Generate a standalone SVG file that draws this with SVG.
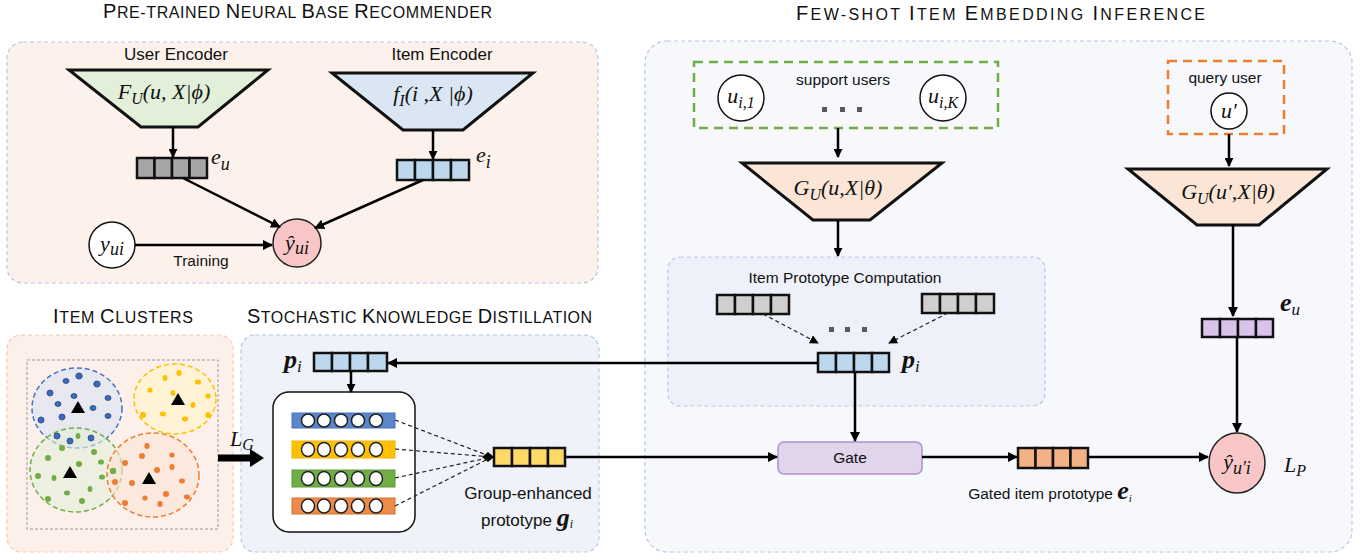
<svg xmlns="http://www.w3.org/2000/svg" width="1367" height="560" viewBox="0 0 1367 560">
<defs>
<marker id="ah" viewBox="0 0 10 10" refX="9" refY="5" markerWidth="10" markerHeight="10" markerUnits="userSpaceOnUse" orient="auto"><path d="M0,0 L10,5 L0,10 z" fill="#000"/></marker>
<marker id="ahs" viewBox="0 0 10 10" refX="9" refY="5" markerWidth="9" markerHeight="9" markerUnits="userSpaceOnUse" orient="auto"><path d="M0,0 L10,5 L0,10 z" fill="#000"/></marker>
<marker id="dia" viewBox="0 0 12 10" refX="12" refY="5" markerWidth="12" markerHeight="10" markerUnits="userSpaceOnUse" orient="auto"><path d="M0,5 L6,0 L12,5 L6,10 z" fill="#000"/></marker>
</defs>
<style>
.title{font-family:"Liberation Sans",Arial,sans-serif;font-size:16px;fill:#111;text-anchor:start}
.cap{font-size:20px}
.lbl{font-family:"Liberation Sans",Arial,sans-serif;font-size:17px;fill:#111;text-anchor:middle}
.sm{font-family:"Liberation Sans",Arial,sans-serif;font-size:15.5px;fill:#111;text-anchor:middle}
.m{font-family:"Liberation Serif","Times New Roman",serif;font-style:italic;font-size:22px;fill:#111}
.mb{font-family:"Liberation Serif","Times New Roman",serif;font-style:italic;font-weight:bold;font-size:26px;fill:#111}
.panel{stroke:#b4c7e7;stroke-width:1.2;stroke-dasharray:4 3}
.cell{stroke:#111;stroke-width:2.5}
.line{stroke:#000;stroke-width:2.5;fill:none}
.dline{stroke:#222;stroke-width:1.2;stroke-dasharray:4 3;fill:none}
.trap{stroke:#111;stroke-width:3}
.circ{fill:#fff;stroke:#111;stroke-width:1.5}
.bd{fill:#3d6ab8;stroke:#2f5597;stroke-width:1}
.gd{fill:#70ad47}
.od{fill:#ed7d31}
.yd{fill:#ffc000}
.wc{fill:#fff;stroke:#222;stroke-width:1.5}
</style>

<!-- Panels -->
<g id="panel-base">
<rect x="7" y="42" width="591" height="241" rx="16" fill="#fdf1ec" class="panel"/>
<text class="title" x="103" y="18" textLength="389" lengthAdjust="spacing"><tspan class="cap">P</tspan>RE-TRAINED <tspan class="cap">N</tspan>EURAL <tspan class="cap">B</tspan>ASE <tspan class="cap">R</tspan>ECOMMENDER</text>
</g>
<g id="panel-fewshot">
<rect x="645" y="41" width="707" height="511" rx="22" fill="#f6f8fc" class="panel"/>
<text class="title" x="796" y="20" textLength="409" lengthAdjust="spacing"><tspan class="cap">F</tspan>EW-SHOT <tspan class="cap">I</tspan>TEM <tspan class="cap">E</tspan>MBEDDING <tspan class="cap">I</tspan>NFERENCE</text>
</g>
<g id="panel-clusters">
<rect x="7" y="335" width="226" height="217" rx="14" fill="#fdf0ea" stroke="#f8cbad" stroke-width="1.2" stroke-dasharray="4 3"/>
<text class="title" x="53" y="323" textLength="140" lengthAdjust="spacing"><tspan class="cap">I</tspan>TEM <tspan class="cap">C</tspan>LUSTERS</text>
</g>
<g id="panel-skd">
<rect x="241" y="335" width="358" height="217" rx="14" fill="#eff2f9" class="panel"/>
<text class="title" x="247" y="323" textLength="345" lengthAdjust="spacing"><tspan class="cap">S</tspan>TOCHASTIC <tspan class="cap">K</tspan>NOWLEDGE <tspan class="cap">D</tspan>ISTILLATION</text>
</g>
<g id="panel-proto">
<rect x="668" y="257" width="377" height="149" rx="12" fill="#eef1f9" class="panel"/>
<text class="sm" x="845" y="283">Item Prototype Computation</text>
</g>

<!-- User Encoder -->
<g id="user-encoder">
<text class="lbl" x="176" y="60">User Encoder</text>
<polygon class="trap" points="69,70 268,70 198,127 141,127" fill="#e2efd9"/>
<text class="m" x="164" y="99" text-anchor="middle" font-size="24">F<tspan font-size="16" dy="5">U</tspan><tspan dy="-5">(u, X|ϕ)</tspan></text>
</g>
<g id="e_u">
<rect class="cell" x="137" y="158" width="17.5" height="20" fill="#a6a6a6"/>
<rect class="cell" x="154.5" y="158" width="17.5" height="20" fill="#a6a6a6"/>
<rect class="cell" x="172" y="158" width="17.5" height="20" fill="#a6a6a6"/>
<rect class="cell" x="189.5" y="158" width="17.5" height="20" fill="#a6a6a6"/>
<text class="m" x="211" y="164" font-size="27">e<tspan font-size="18" dy="6">u</tspan></text>
</g>

<!-- Item Encoder -->
<g id="item-encoder">
<text class="lbl" x="442" y="60">Item Encoder</text>
<polygon class="trap" points="332,73 533,73 463,130 403,130" fill="#dae6f3"/>
<text class="m" x="433" y="101" text-anchor="middle" font-size="24">f<tspan font-size="16" dy="5">I</tspan><tspan dy="-5">(i ,X |ϕ)</tspan></text>
</g>
<g id="e_i">
<rect class="cell" x="397" y="160" width="18" height="20" fill="#bdd7ee"/>
<rect class="cell" x="415" y="160" width="18" height="20" fill="#bdd7ee"/>
<rect class="cell" x="433" y="160" width="18" height="20" fill="#bdd7ee"/>
<rect class="cell" x="451" y="160" width="18" height="20" fill="#bdd7ee"/>
<text class="m" x="476" y="162" font-size="27">e<tspan font-size="18" dy="6">i</tspan></text>
</g>

<g id="y_ui">
<circle class="circ" cx="112" cy="245" r="23"/>
<text class="m" x="112" y="251" text-anchor="middle" font-size="26">y<tspan font-size="18" dy="4">ui</tspan></text>
</g>
<g id="yhat_ui">
<circle cx="297" cy="243" r="24" fill="#f8c6c6" stroke="#222" stroke-width="1.5"/>
<text class="m" x="297" y="250" text-anchor="middle" font-size="26">ŷ<tspan font-size="18" dy="4">ui</tspan></text>
</g>

<!-- Support users -->
<g id="support-users">
<rect x="694" y="62" width="304" height="66" fill="none" stroke="#70ad47" stroke-width="2.5" stroke-dasharray="9 6"/>
<text class="sm" x="843" y="85">support users</text>
<circle class="circ" cx="741" cy="98" r="23"/>
<text class="m" x="741" y="103" text-anchor="middle" font-size="27">u<tspan font-size="16" dy="5">i,1</tspan></text>
<circle class="circ" cx="943" cy="98" r="23"/>
<text class="m" x="943" y="103" text-anchor="middle" font-size="27">u<tspan font-size="16" dy="5">i,K</tspan></text>
<rect x="822" y="107" width="5" height="5" fill="#595959"/>
<rect x="840" y="107" width="5" height="5" fill="#595959"/>
<rect x="857" y="107" width="5" height="5" fill="#595959"/>
</g>
<g id="gu-support">
<polygon class="trap" points="742,163 942,163 870,220 813,220" fill="#fbe5d6"/>
<text class="m" x="838" y="195" text-anchor="middle" font-size="24">G<tspan font-size="16" dy="5">U</tspan><tspan dy="-5">(u,X|θ)</tspan></text>
</g>

<!-- Item prototype computation -->
<g id="proto-left">
<rect class="cell" x="717" y="295" width="18" height="19" fill="#d0cece"/>
<rect class="cell" x="735" y="295" width="18" height="19" fill="#d0cece"/>
<rect class="cell" x="753" y="295" width="18" height="19" fill="#d0cece"/>
<rect class="cell" x="771" y="295" width="18" height="19" fill="#d0cece"/>
</g>
<g id="proto-right">
<rect class="cell" x="922" y="294" width="18" height="19" fill="#d0cece"/>
<rect class="cell" x="940" y="294" width="18" height="19" fill="#d0cece"/>
<rect class="cell" x="958" y="294" width="18" height="19" fill="#d0cece"/>
<rect class="cell" x="976" y="294" width="18" height="19" fill="#d0cece"/>
<rect x="829" y="327" width="5" height="5" fill="#595959"/>
<rect x="845" y="327" width="5" height="5" fill="#595959"/>
<rect x="862" y="327" width="5" height="5" fill="#595959"/>
</g>
<g id="p_i-proto">
<rect class="cell" x="818" y="353" width="18" height="19" fill="#bdd7ee"/>
<rect class="cell" x="836" y="353" width="18" height="19" fill="#bdd7ee"/>
<rect class="cell" x="854" y="353" width="18" height="19" fill="#bdd7ee"/>
<rect class="cell" x="872" y="353" width="17" height="19" fill="#bdd7ee"/>
<text class="mb" x="902" y="368">p<tspan font-size="17" font-weight="normal" dy="4">i</tspan></text>
</g>

<!-- Query user -->
<g id="query-user">
<rect x="1168" y="61" width="116" height="73" fill="none" stroke="#ed7d31" stroke-width="2.5" stroke-dasharray="9 6"/>
<text class="sm" x="1225" y="83">query user</text>
<circle class="circ" cx="1229" cy="111" r="18"/>
<text class="m" x="1229" y="118" text-anchor="middle" font-size="24">u′</text>
</g>
<g id="gu-query">
<polygon class="trap" points="1128,169 1327,169 1259,225 1197,225" fill="#fbe5d6"/>
<text class="m" x="1228" y="199" text-anchor="middle" font-size="24">G<tspan font-size="16" dy="5">U</tspan><tspan dy="-5">(u′,X|θ)</tspan></text>
</g>
<g id="e_u-query">
<rect class="cell" x="1202" y="319" width="18" height="18" fill="#d9c3e9"/>
<rect class="cell" x="1220" y="319" width="18" height="18" fill="#d9c3e9"/>
<rect class="cell" x="1238" y="319" width="18" height="18" fill="#d9c3e9"/>
<rect class="cell" x="1256" y="319" width="17" height="18" fill="#d9c3e9"/>
<text class="mb" x="1280" y="311">e<tspan font-size="17" font-weight="normal" dy="4">u</tspan></text>
</g>

<g id="gate">
<rect x="778" y="442" width="144" height="32" rx="6" fill="#e1d5ec" stroke="#b18fd0" stroke-width="1.5"/>
<text class="sm" x="850" y="463">Gate</text>
</g>
<g id="gated-proto">
<rect class="cell" x="1018" y="448" width="17.5" height="20" fill="#f4b183"/>
<rect class="cell" x="1035.5" y="448" width="17.5" height="20" fill="#f4b183"/>
<rect class="cell" x="1053" y="448" width="17.5" height="20" fill="#f4b183"/>
<rect class="cell" x="1070.5" y="448" width="17.5" height="20" fill="#f4b183"/>
<text class="sm" x="1050" y="499" font-size="15">Gated item prototype <tspan class="mb" font-size="15">e</tspan><tspan font-family="Liberation Serif" font-style="italic" font-size="11" dy="3">i</tspan></text>
</g>
<g id="yhat_u'i">
<ellipse cx="1237" cy="463" rx="28" ry="30" fill="#f8c6c6" stroke="#222" stroke-width="1.5"/>
<text class="m" x="1237" y="469" text-anchor="middle" font-size="27">ŷ<tspan font-size="18" dy="5">u′i</tspan></text>
<text class="m" x="1284" y="472" font-size="25">L<tspan font-size="16" dy="4">P</tspan></text>
</g>

<!-- Item clusters -->
<g id="clusters">
<rect x="27" y="360" width="191" height="169" fill="none" stroke="#999" stroke-width="1" stroke-dasharray="3 2"/>
<ellipse cx="77" cy="408" rx="45" ry="40" fill="#dae3f3" fill-opacity="0.6" stroke="#4472c4" stroke-width="1.5" stroke-dasharray="5 3"/>
<ellipse cx="175" cy="399" rx="41" ry="35" fill="#fff2cc" fill-opacity="0.7" stroke="#ffc000" stroke-width="1.5" stroke-dasharray="5 3"/>
<ellipse cx="76" cy="470" rx="46" ry="42" fill="#e2efd9" fill-opacity="0.6" stroke="#70ad47" stroke-width="1.5" stroke-dasharray="5 3"/>
<ellipse cx="153" cy="475" rx="46" ry="42" fill="#fbe5d6" fill-opacity="0.6" stroke="#ed7d31" stroke-width="1.5" stroke-dasharray="5 3"/>
<g class="bd">
<ellipse cx="79" cy="376" rx="3.2" ry="3"/><ellipse cx="66" cy="381" rx="3" ry="2.4"/><ellipse cx="97" cy="384" rx="3.2" ry="3"/><ellipse cx="50" cy="393" rx="3" ry="3"/><ellipse cx="74" cy="396" rx="3" ry="2.4"/><ellipse cx="108" cy="398" rx="3" ry="2.4"/><ellipse cx="58" cy="404" rx="3" ry="2.4"/><ellipse cx="93" cy="408" rx="3" ry="2.4"/><ellipse cx="62" cy="417" rx="3" ry="3"/><ellipse cx="108" cy="416" rx="3" ry="2.4"/><ellipse cx="41" cy="420" rx="3" ry="3"/><ellipse cx="57" cy="436" rx="3" ry="3"/><ellipse cx="70" cy="441" rx="3" ry="3"/><ellipse cx="91" cy="438" rx="3" ry="3"/>
</g>
<g class="yd">
<ellipse cx="179" cy="373" rx="2.6" ry="3"/><ellipse cx="165" cy="378" rx="2.4" ry="3"/><ellipse cx="198" cy="382" rx="3" ry="2.6"/><ellipse cx="150" cy="390" rx="2.6" ry="2.6"/><ellipse cx="173" cy="393" rx="2.4" ry="3"/><ellipse cx="208" cy="396" rx="2.6" ry="2.6"/><ellipse cx="193" cy="405" rx="2.4" ry="3"/><ellipse cx="143" cy="415" rx="3" ry="3"/><ellipse cx="163" cy="414" rx="3" ry="2.4"/><ellipse cx="185" cy="419" rx="3" ry="2.4"/><ellipse cx="208" cy="415" rx="2.6" ry="3"/>
</g>
<g class="gd">
<ellipse cx="78" cy="436" rx="2.4" ry="3"/><ellipse cx="62" cy="448" rx="3" ry="3"/><ellipse cx="94" cy="452" rx="3" ry="3"/><ellipse cx="48" cy="458" rx="3" ry="3"/><ellipse cx="79" cy="464" rx="3" ry="3"/><ellipse cx="101" cy="462" rx="3" ry="2.6"/><ellipse cx="113" cy="471" rx="3.2" ry="3.2"/><ellipse cx="38" cy="476" rx="3" ry="3"/><ellipse cx="54" cy="478" rx="2.4" ry="3"/><ellipse cx="102" cy="477" rx="3" ry="2.6"/><ellipse cx="90" cy="489" rx="2.4" ry="3"/><ellipse cx="67" cy="493" rx="3" ry="2.4"/><ellipse cx="48" cy="499" rx="3" ry="3"/><ellipse cx="82" cy="501" rx="3" ry="3"/>
</g>
<g class="od">
<ellipse cx="147" cy="446" rx="2.6" ry="3"/><ellipse cx="142" cy="456" rx="3" ry="3"/><ellipse cx="172" cy="455" rx="2.6" ry="2.6"/><ellipse cx="125" cy="463" rx="3" ry="3"/><ellipse cx="157" cy="470" rx="3" ry="3"/><ellipse cx="172" cy="467" rx="2.6" ry="3"/><ellipse cx="115" cy="482" rx="3" ry="3"/><ellipse cx="132" cy="483" rx="3" ry="3"/><ellipse cx="182" cy="481" rx="3" ry="2.4"/><ellipse cx="166" cy="494" rx="3" ry="3"/><ellipse cx="145" cy="498" rx="2.6" ry="2.6"/><ellipse cx="187" cy="497" rx="3" ry="2.4"/><ellipse cx="125" cy="503" rx="3" ry="3"/><ellipse cx="160" cy="504" rx="2.6" ry="3"/>
</g>
<g fill="#000">
<polygon points="78,401 85,413 71,413"/>
<polygon points="178,393 185,405 171,405"/>
<polygon points="70,466 77,478 63,478"/>
<polygon points="149,472 156,484 142,484"/>
</g>
</g>

<!-- SKD -->
<g id="p_i-skd">
<rect class="cell" x="314" y="353" width="18" height="18" fill="#bdd7ee"/>
<rect class="cell" x="332" y="353" width="18" height="18" fill="#bdd7ee"/>
<rect class="cell" x="350" y="353" width="18" height="18" fill="#bdd7ee"/>
<rect class="cell" x="368" y="353" width="19" height="18" fill="#bdd7ee"/>
<text class="mb" x="284" y="368">p<tspan font-size="17" font-weight="normal" dy="4">i</tspan></text>
</g>
<g id="group-memory">
<rect x="273" y="392" width="142" height="140" rx="16" fill="#fff" stroke="#111" stroke-width="1.5"/>
<rect x="292" y="413" width="103" height="15" fill="#5b87c8" stroke="#4472c4" stroke-width="1"/>
<rect x="292" y="441" width="103" height="17" fill="#ffc000" stroke="#f0b400" stroke-width="1"/>
<rect x="292" y="470" width="103" height="17" fill="#70ad47" stroke="#5a9a36" stroke-width="1"/>
<rect x="292" y="498" width="103" height="16" fill="#ed8b4a" stroke="#d8702a" stroke-width="1"/>
<g class="wc">
<ellipse cx="308" cy="420.5" rx="6.5" ry="6.5"/><ellipse cx="324" cy="420.5" rx="6.5" ry="6.5"/><ellipse cx="341" cy="420.5" rx="6.5" ry="6.5"/><ellipse cx="358" cy="420.5" rx="6.5" ry="6.5"/><ellipse cx="376" cy="420.5" rx="6.5" ry="6.5"/>
<ellipse cx="308" cy="449.5" rx="6.5" ry="7"/><ellipse cx="324" cy="449.5" rx="6.5" ry="7"/><ellipse cx="341" cy="449.5" rx="6.5" ry="7"/><ellipse cx="358" cy="449.5" rx="6.5" ry="7"/><ellipse cx="376" cy="449.5" rx="6.5" ry="7"/>
<ellipse cx="308" cy="478.5" rx="6.5" ry="7"/><ellipse cx="324" cy="478.5" rx="6.5" ry="7"/><ellipse cx="341" cy="478.5" rx="6.5" ry="7"/><ellipse cx="358" cy="478.5" rx="6.5" ry="7"/><ellipse cx="376" cy="478.5" rx="6.5" ry="7"/>
<ellipse cx="308" cy="506" rx="6.5" ry="7"/><ellipse cx="324" cy="506" rx="6.5" ry="7"/><ellipse cx="341" cy="506" rx="6.5" ry="7"/><ellipse cx="358" cy="506" rx="6.5" ry="7"/><ellipse cx="376" cy="506" rx="6.5" ry="7"/>
</g>
</g>
<g id="g_i">
<rect class="cell" x="494" y="448" width="18" height="18" fill="#ffd966"/>
<rect class="cell" x="512" y="448" width="18" height="18" fill="#ffd966"/>
<rect class="cell" x="530" y="448" width="18" height="18" fill="#ffd966"/>
<rect class="cell" x="548" y="448" width="17" height="18" fill="#ffd966"/>
<text class="lbl" x="528" y="499" font-size="16">Group-enhanced</text>
<text class="lbl" x="527" y="526" font-size="16">prototype <tspan class="mb" font-size="17">g</tspan><tspan font-family="Liberation Serif" font-style="italic" font-size="12" dy="2">i</tspan></text>
</g>
<g id="L_G">
<text class="m" x="230" y="446" font-size="25">L<tspan font-size="16" dy="4">G</tspan></text>
</g>

<!-- Connectors -->
<g id="connectors">
<line class="line" x1="173" y1="127" x2="173" y2="157" marker-end="url(#ahs)"/>
<line class="line" x1="433" y1="131" x2="433" y2="159" marker-end="url(#ahs)"/>
<line class="line" x1="183" y1="178" x2="280" y2="227" marker-end="url(#ah)"/>
<line class="line" x1="423" y1="180" x2="315" y2="228" marker-end="url(#ah)"/>
<line class="line" x1="135" y1="245" x2="272" y2="245" marker-end="url(#ah)"/>
<text class="sm" x="201" y="266" font-size="14.5">Training</text>
<line class="line" x1="838" y1="128" x2="838" y2="157" marker-end="url(#ahs)"/>
<line class="line" x1="838" y1="220" x2="838" y2="256" marker-end="url(#ahs)"/>
<line class="dline" x1="763" y1="314" x2="818" y2="343" marker-end="url(#ahs)"/>
<line class="dline" x1="948" y1="313" x2="889" y2="343" marker-end="url(#ahs)"/>
<line class="line" x1="818" y1="363" x2="388" y2="363" marker-end="url(#ah)"/>
<line class="line" x1="855" y1="372" x2="855" y2="441" marker-end="url(#ah)"/>
<line class="line" x1="351" y1="371" x2="351" y2="392" marker-end="url(#ahs)"/>
<line class="dline" x1="395" y1="420" x2="492" y2="457"/>
<line class="dline" x1="395" y1="449" x2="492" y2="457"/>
<line class="dline" x1="395" y1="478" x2="492" y2="457"/>
<line class="dline" x1="395" y1="506" x2="492" y2="457"/>
<line x1="486" y1="457" x2="494" y2="457" stroke="#000" stroke-width="1" marker-end="url(#dia)"/>
<line class="line" x1="565" y1="457" x2="777" y2="457" marker-end="url(#ah)"/>
<line class="line" x1="922" y1="457" x2="1017" y2="457" marker-end="url(#ah)"/>
<line class="line" x1="1088" y1="457" x2="1208" y2="457" marker-end="url(#ah)"/>
<line class="line" x1="1229" y1="134" x2="1229" y2="166" marker-end="url(#ahs)"/>
<line class="line" x1="1233" y1="225" x2="1233" y2="316" marker-end="url(#ah)"/>
<line class="line" x1="1237" y1="337" x2="1237" y2="432" marker-end="url(#ah)"/>
<line x1="218" y1="458" x2="252" y2="458" stroke="#000" stroke-width="7"/>
<path d="M250,449 L264,458 L250,467 z" fill="#000"/>
</g>
</svg>
